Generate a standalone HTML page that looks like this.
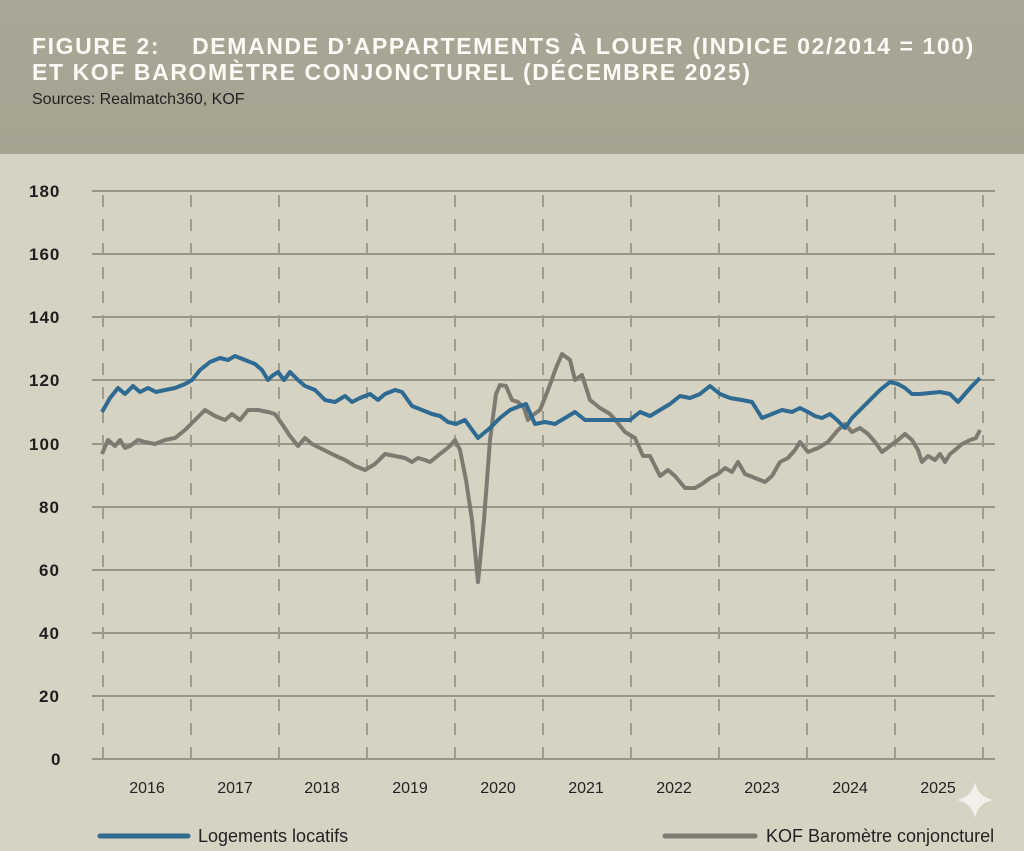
<!DOCTYPE html>
<html><head><meta charset="utf-8"><style>
body{margin:0;width:1024px;height:851px;overflow:hidden;background:#d7d3c3;font-family:"Liberation Sans",sans-serif}
#hd{position:absolute;left:0;top:0;width:1024px;height:154px;background:linear-gradient(#aaa696,#a7a391)}
.t{position:absolute;left:32px;color:#fbfaf5;font-weight:bold;font-size:23px;letter-spacing:1.6px;white-space:pre}
</style></head><body>
<div id="hd"></div>
<div class="t" style="top:33px">FIGURE 2:    DEMANDE D’APPARTEMENTS À LOUER (INDICE 02/2014 = 100)</div>
<div class="t" style="top:59px">ET KOF BAROMÈTRE CONJONCTUREL (DÉCEMBRE 2025)</div>
<div style="position:absolute;left:32px;top:91px;font-size:16px;color:#222">Sources: Realmatch360, KOF</div>
<svg width="1024" height="851" style="position:absolute;left:0;top:0">
<g stroke="#9a958b" stroke-width="2">
<line x1="92" x2="995" y1="191" y2="191"/><line x1="92" x2="995" y1="254" y2="254"/><line x1="92" x2="995" y1="317" y2="317"/><line x1="92" x2="995" y1="380" y2="380"/><line x1="92" x2="995" y1="444" y2="444"/><line x1="92" x2="995" y1="507" y2="507"/><line x1="92" x2="995" y1="570" y2="570"/><line x1="92" x2="995" y1="633" y2="633"/><line x1="92" x2="995" y1="696" y2="696"/><line x1="92" x2="995" y1="759" y2="759"/>
</g>
<g stroke="#a09b90" stroke-width="2" stroke-dasharray="12,12">
<line x1="103" x2="103" y1="195" y2="759"/><line x1="191" x2="191" y1="195" y2="759"/><line x1="279" x2="279" y1="195" y2="759"/><line x1="367" x2="367" y1="195" y2="759"/><line x1="455" x2="455" y1="195" y2="759"/><line x1="543" x2="543" y1="195" y2="759"/><line x1="631" x2="631" y1="195" y2="759"/><line x1="719" x2="719" y1="195" y2="759"/><line x1="807" x2="807" y1="195" y2="759"/><line x1="895" x2="895" y1="195" y2="759"/><line x1="983" x2="983" y1="195" y2="759"/>
</g>
<g font-family="Liberation Sans" font-weight="bold" font-size="17" letter-spacing="1" fill="#1e1e1e">
<text x="29" y="197">180</text><text x="29" y="260">160</text><text x="29" y="323">140</text><text x="29" y="386">120</text><text x="29" y="450">100</text><text x="39" y="513">80</text><text x="39" y="576">60</text><text x="39" y="639">40</text><text x="39" y="702">20</text><text x="51" y="765">0</text>
</g>
<g font-family="Liberation Sans" font-size="16" fill="#222" text-anchor="middle">
<text x="147" y="793">2016</text><text x="235" y="793">2017</text><text x="322" y="793">2018</text><text x="410" y="793">2019</text><text x="498" y="793">2020</text><text x="586" y="793">2021</text><text x="674" y="793">2022</text><text x="762" y="793">2023</text><text x="850" y="793">2024</text><text x="938" y="793">2025</text>
</g>
<polyline fill="none" stroke="#7e7a70" stroke-width="4" stroke-linejoin="round" points="102,454 108,440 115,446 120,440 125,448 130,446 138,440 145,442 155,444 165,440 175,438 185,430 195,420 205,410 215,416 225,420 232,414 240,420 248,410 258,410 268,412 275,414 282,424 290,436 298,446 305,438 312,444 320,448 328,452 336,456 345,460 355,466 365,470 375,464 385,454 395,456 405,458 412,462 418,458 425,460 430,462 440,454 450,446 455,440 460,450 466,480 472,520 478,582 484,520 490,440 496,394 500,385 506,386 512,400 518,402 524,408 528,420 533,415 540,410 548,390 556,368 562,354 570,360 575,380 582,375 590,400 600,408 610,414 617,422 625,432 635,438 643,456 650,456 655,466 660,476 668,470 675,476 685,488 695,488 702,484 710,478 718,474 725,468 732,472 738,462 745,474 755,478 765,482 772,476 780,462 788,458 795,450 800,442 808,452 818,448 828,442 838,430 845,424 852,432 860,428 868,434 875,442 882,452 890,446 898,440 905,434 912,440 918,450 922,462 928,456 935,460 940,454 945,462 950,454 955,450 962,444 970,440 976,438 980,430"/>
<polyline fill="none" stroke="#2e6a92" stroke-width="4" stroke-linejoin="round" points="102,412 110,398 118,388 125,394 133,386 140,392 148,388 156,392 165,390 175,388 185,384 192,380 200,370 210,362 220,358 228,360 235,356 245,360 255,364 262,370 268,380 272,376 278,372 284,380 290,372 298,380 305,386 315,390 325,400 335,402 345,396 352,402 360,398 370,394 378,400 385,394 395,390 402,392 412,406 422,410 432,414 440,416 448,422 456,424 465,420 478,438 490,428 500,418 510,410 520,406 526,404 535,424 545,422 555,424 565,418 575,412 585,420 600,420 620,420 630,420 640,412 650,416 660,410 670,404 680,396 690,398 700,394 710,386 720,394 730,398 742,400 752,402 762,418 772,414 782,410 792,412 800,408 808,412 815,416 822,418 830,414 837,420 845,428 852,418 860,410 870,400 880,390 890,382 898,384 905,388 912,394 920,394 940,392 950,394 958,402 965,394 972,386 980,378"/>
<line x1="100" x2="188" y1="836" y2="836" stroke="#2e6a92" stroke-width="5" stroke-linecap="round"/>
<line x1="665" x2="755" y1="836" y2="836" stroke="#7e7a70" stroke-width="5" stroke-linecap="round"/>
<g font-family="Liberation Sans" font-size="18" fill="#222"><text x="198" y="842">Logements locatifs</text><text x="766" y="842">KOF Baromètre conjoncturel</text></g>
<path d="M975,782 Q978,797 993,800 Q978,803 975,818 Q972,803 957,800 Q972,797 975,782Z" fill="#f2f0ea"/>
</svg>
</body></html>
